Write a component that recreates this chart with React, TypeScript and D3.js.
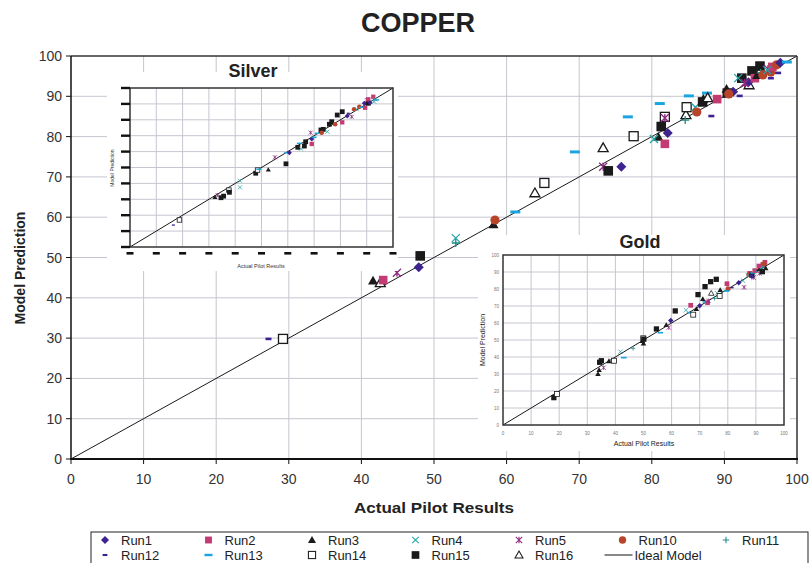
import React from "react";
import * as d3 from "d3";

// ---------- DATA ----------
const tickValues = [0, 10, 20, 30, 40, 50, 60, 70, 80, 90, 100];
const legendRuns = [1, 2, 3, 4, 5, 10, 11, 12, 13, 14, 15, 16];
const runLabels: Record<number, string> = {
  1: "Run1", 2: "Run2", 3: "Run3", 4: "Run4", 5: "Run5", 10: "Run10", 11: "Run11",
  12: "Run12", 13: "Run13", 14: "Run14", 15: "Run15", 16: "Run16",
};
const idealLabel = "Ideal Model";
const idealLine: [number, number][] = [[0, 0], [100, 100]];

// [run, actual pilot, model prediction]
const copperPoints: [number, number, number][] = [
  [12, 27.2, 29.8], [14, 29.2, 29.8], [3, 41.6, 44.2], [16, 42.6, 43.7], [2, 43.0, 44.4],
  [5, 44.9, 46.2], [1, 47.9, 47.6], [15, 48.1, 50.4], [4, 53.0, 54.8], [11, 53.0, 53.6],
  [3, 58.2, 58.2], [10, 58.4, 59.3], [13, 61.2, 61.3], [16, 63.9, 66.0], [14, 65.2, 68.5],
  [13, 69.4, 76.2], [16, 73.3, 77.2], [5, 73.3, 72.5], [15, 74.0, 71.5], [1, 75.8, 72.5],
  [14, 77.5, 80.1], [13, 76.7, 84.9], [13, 81.1, 88.2], [13, 85.1, 90.1], [13, 87.6, 90.8],
  [15, 81.3, 82.5], [3, 80.9, 79.9], [4, 80.3, 79.4], [2, 81.8, 78.2], [1, 82.2, 80.9],
  [14, 81.8, 84.9], [5, 81.8, 84.6], [16, 84.7, 85.4], [11, 84.6, 84.1], [14, 84.8, 87.3],
  [4, 86.0, 87.3], [10, 86.2, 86.1], [12, 88.2, 85.1], [15, 87.0, 88.6], [3, 87.1, 89.3],
  [16, 87.7, 89.6], [2, 89.0, 89.3], [15, 90.4, 90.8], [3, 90.3, 91.8], [1, 91.2, 91.1],
  [10, 90.6, 90.6], [12, 92.1, 90.1], [15, 92.4, 94.5], [4, 91.9, 94.5], [16, 93.4, 92.8],
  [1, 93.3, 93.5], [5, 92.8, 93.3], [15, 93.8, 96.3], [15, 94.9, 97.5], [2, 94.2, 94.5],
  [3, 94.5, 95.2], [11, 95.0, 95.8], [10, 95.3, 95.3], [10, 96.4, 96.0], [5, 96.0, 96.8],
  [2, 96.6, 97.3], [10, 97.2, 97.8], [12, 96.4, 94.5], [12, 97.4, 95.8], [4, 95.9, 96.5],
  [1, 97.7, 98.3], [13, 98.6, 98.5],
];

const silverPoints: [number, number, number][] = [
  [12, 16.5, 13.8], [14, 18.8, 17.0], [3, 32.3, 31.3], [5, 33.3, 32.7], [15, 34.6, 31.0],
  [15, 35.6, 32.0], [14, 37.6, 35.8], [15, 37.8, 34.4], [4, 41.8, 41.7], [4, 41.8, 37.5],
  [15, 47.8, 46.4], [14, 48.5, 48.4], [13, 49.0, 48.9], [3, 52.6, 48.6], [15, 59.3, 52.3],
  [5, 55.1, 56.4], [13, 59.6, 59.3], [1, 60.6, 59.3], [15, 63.8, 62.7], [4, 65.0, 61.8],
  [13, 64.4, 65.2], [15, 66.3, 63.5], [15, 66.8, 66.2], [2, 69.1, 64.8], [1, 69.1, 67.9],
  [5, 68.7, 71.9], [13, 70.0, 69.0], [13, 71.2, 71.5], [15, 72.6, 73.6], [15, 73.5, 74.0],
  [4, 75.0, 72.5], [10, 72.9, 71.9], [15, 75.8, 77.2], [15, 76.7, 78.8], [10, 78.0, 77.2],
  [15, 78.8, 83.0], [15, 80.7, 85.1], [2, 80.7, 78.4], [1, 82.6, 82.4], [10, 85.2, 86.6],
  [5, 84.3, 81.9], [12, 83.0, 84.1], [4, 86.2, 86.6], [10, 87.2, 88.2], [13, 88.1, 87.9],
  [2, 89.4, 87.6], [1, 89.1, 90.4], [5, 90.0, 92.5], [2, 92.5, 94.5], [4, 92.8, 91.4],
  [15, 90.6, 90.4], [13, 93.8, 92.5], [2, 90.6, 92.9], [1, 91.3, 90.8], [4, 93.2, 92.9],
];

const goldPoints: [number, number, number][] = [
  [15, 18.1, 16.1], [14, 19.2, 18.2], [3, 33.8, 30.0], [3, 34.2, 32.4], [15, 34.4, 36.9],
  [15, 35.0, 37.8], [5, 35.8, 33.7], [3, 37.7, 37.6], [14, 39.5, 37.8], [4, 41.8, 43.1],
  [13, 43.0, 39.6], [11, 46.3, 45.1], [14, 49.9, 51.0], [15, 50.1, 50.5], [3, 50.0, 48.0],
  [3, 49.6, 49.4], [15, 54.6, 56.5], [13, 56.0, 54.3], [3, 58.1, 58.8], [5, 59.0, 57.3],
  [1, 59.7, 61.4], [15, 61.3, 67.1], [4, 65.1, 67.5], [13, 66.5, 66.1], [2, 66.8, 70.4],
  [14, 67.7, 64.9], [3, 68.8, 68.2], [15, 69.4, 76.7], [1, 70.0, 70.2], [3, 71.1, 74.1],
  [13, 72.0, 72.4], [15, 71.9, 81.4], [2, 72.8, 72.0], [5, 73.1, 73.1], [16, 74.1, 77.5],
  [15, 73.9, 84.3], [11, 75.3, 74.5], [15, 75.9, 85.7], [4, 76.2, 77.5], [14, 77.1, 75.9],
  [3, 77.3, 79.4], [10, 80.1, 80.2], [2, 79.7, 83.1], [13, 79.5, 78.8], [12, 81.5, 80.8],
  [1, 83.9, 83.7], [4, 85.4, 84.9], [5, 85.8, 81.0], [2, 87.8, 89.2], [10, 87.5, 88.4],
  [4, 87.2, 88.0], [5, 89.2, 86.7], [15, 88.6, 88.2], [1, 88.5, 87.5], [13, 89.0, 89.5],
  [2, 89.6, 90.8], [4, 90.2, 90.4], [3, 91.1, 91.6], [2, 91.1, 93.5], [5, 91.3, 89.2],
  [2, 92.5, 94.5], [2, 93.2, 95.7], [10, 92.9, 94.9], [4, 91.9, 91.6], [11, 92.5, 92.7],
  [15, 92.3, 90.2], [3, 93.5, 92.2],
];

// ---------- STYLES ----------
const FONT = "'Liberation Sans', Arial, Helvetica, sans-serif";
const GRID = "#c6c6d0";
type Style = { shape: string; color: string };
const runStyles: Record<number, Style> = {
  1: { shape: "diamond", color: "#3d2290" },
  2: { shape: "square", color: "#c43a72" },
  3: { shape: "triangle", color: "#1a1a1a" },
  4: { shape: "x", color: "#22a6a6" },
  5: { shape: "star", color: "#8e2a80" },
  10: { shape: "circle", color: "#b8452a" },
  11: { shape: "plus", color: "#1a8a8a" },
  12: { shape: "dashS", color: "#3d2290" },
  13: { shape: "dashL", color: "#1ba5e0" },
  14: { shape: "osquare", color: "#1a1a1a" },
  15: { shape: "bsquare", color: "#1a1a1a" },
  16: { shape: "otriangle", color: "#1a1a1a" },
};

function Marker({ run, x, y, s }: { run: number; x: number; y: number; s: number }) {
  const st = runStyles[run];
  const c = st.color;
  const sw = Math.max(1.3 * s, 0.8);
  switch (st.shape) {
    case "diamond": {
      const r = 5 * s;
      return <path d={`M${x},${y - r}L${x + r},${y}L${x},${y + r}L${x - r},${y}Z`} fill={c} />;
    }
    case "square": {
      const r = 4.3 * s;
      return <rect x={x - r} y={y - r} width={2 * r} height={2 * r} fill={c} />;
    }
    case "triangle": {
      const r = 5 * s;
      return <path d={`M${x},${y - r}L${x + r},${y + r * 0.75}L${x - r},${y + r * 0.75}Z`} fill={c} />;
    }
    case "otriangle": {
      const r = 5 * s;
      return (
        <path d={`M${x},${y - r}L${x + r},${y + r * 0.75}L${x - r},${y + r * 0.75}Z`} fill="#fff" stroke={c} strokeWidth={sw} />
      );
    }
    case "x": {
      const r = 4 * s;
      return <path d={`M${x - r},${y - r}L${x + r},${y + r}M${x - r},${y + r}L${x + r},${y - r}`} stroke={c} strokeWidth={sw} fill="none" />;
    }
    case "star": {
      const r = 4 * s;
      return (
        <path d={`M${x - r},${y - r}L${x + r},${y + r}M${x - r},${y + r}L${x + r},${y - r}M${x},${y - r}L${x},${y + r}`} stroke={c} strokeWidth={sw} fill="none" />
      );
    }
    case "plus": {
      const r = 4 * s;
      return <path d={`M${x - r},${y}L${x + r},${y}M${x},${y - r}L${x},${y + r}`} stroke={c} strokeWidth={sw} fill="none" />;
    }
    case "circle":
      return <circle cx={x} cy={y} r={4.6 * s} fill={c} />;
    case "dashS":
      return <rect x={x - 3 * s} y={y - 1.3 * s} width={6 * s} height={2.6 * s} fill={c} />;
    case "dashL":
      return <rect x={x - 5 * s} y={y - 1.5 * s} width={10 * s} height={3 * s} fill={c} />;
    case "osquare": {
      const r = 4.5 * s;
      return <rect x={x - r} y={y - r} width={2 * r} height={2 * r} fill="#fff" stroke={c} strokeWidth={sw} />;
    }
    case "bsquare": {
      const r = 4.8 * s;
      return <rect x={x - r} y={y - r} width={2 * r} height={2 * r} fill={c} />;
    }
  }
  return null;
}

// ---------- SCALES ----------
const xM = d3.scaleLinear().domain([0, 100]).range([71, 797]);
const yM = d3.scaleLinear().domain([0, 100]).range([459, 56]);
const xS = d3.scaleLinear().domain([0, 100]).range([130, 393]);
const yS = d3.scaleLinear().domain([0, 100]).range([247, 88]);
const xG = d3.scaleLinear().domain([0, 100]).range([503, 784]);
const yG = d3.scaleLinear().domain([0, 100]).range([425, 255]);

function Grid({ xs, ys }: { xs: d3.ScaleLinear<number, number>; ys: d3.ScaleLinear<number, number> }) {
  const [x0, x1] = xs.range();
  const [y0, y1] = ys.range();
  return (
    <g>
      {tickValues.slice(1, -1).map((t) => (
        <line key={"v" + t} x1={xs(t)} x2={xs(t)} y1={y0} y2={y1} stroke={GRID} strokeWidth={1} />
      ))}
      {tickValues.slice(1, -1).map((t) => (
        <line key={"h" + t} x1={x0} x2={x1} y1={ys(t)} y2={ys(t)} stroke={GRID} strokeWidth={1} />
      ))}
    </g>
  );
}

function Ideal({ xs, ys, w }: { xs: d3.ScaleLinear<number, number>; ys: d3.ScaleLinear<number, number>; w: number }) {
  const line = d3.line<[number, number]>().x((d) => xs(d[0])).y((d) => ys(d[1]));
  return <path d={line(idealLine) || ""} stroke="#1a1a1a" strokeWidth={w} fill="none" />;
}

function Points({ pts, xs, ys, s }: { pts: [number, number, number][]; xs: any; ys: any; s: number }) {
  return (
    <g>
      {pts.map((p, i) => (
        <Marker key={i} run={p[0]} x={xs(p[1])} y={ys(p[2])} s={s} />
      ))}
    </g>
  );
}

export default function App() {
  const colX = (i: number) => 105 + i * 103.5;
  const rowY = (r: number) => 541 + r * 15;
  return (
    <svg width={812} height={563} style={{ position: "absolute", left: 0, top: 0, background: "#fff" }} fontFamily={FONT}>
      <rect x={0} y={0} width={812} height={563} fill="#fff" />
      {/* Title */}
      <text x={418} y={32} textAnchor="middle" fontSize={27} fontWeight="bold" fill="#222">COPPER</text>

      {/* Main plot */}
      <Grid xs={xM} ys={yM} />
      <Ideal xs={xM} ys={yM} w={1} />
      <Points pts={copperPoints} xs={xM} ys={yM} s={1} />

      {/* Silver inset */}
      <rect x={107} y={72} width={291} height={199} fill="#fff" />
      <Grid xs={xS} ys={yS} />
      <Ideal xs={xS} ys={yS} w={1} />
      <Points pts={silverPoints} xs={xS} ys={yS} s={0.5} />
      <rect x={130} y={88} width={263} height={159} fill="none" stroke="#333" strokeWidth={1.5} />
      {tickValues.map((t) => (
        <rect key={"sy" + t} x={121} y={yS(t) - 1.2} width={9} height={2.4} fill="#111" />
      ))}
      {tickValues.map((t) => (
        <rect key={"sx" + t} x={xS(t) - 3.5} y={252} width={7} height={2.6} fill="#111" />
      ))}
      <text x={253} y={77} textAnchor="middle" fontSize={18} fontWeight="bold" fill="#222">Silver</text>
      <text x={261} y={268} textAnchor="middle" fontSize={5.5} fill="#333">Actual Pilot Results</text>
      <text transform={`translate(114,168) rotate(-90)`} textAnchor="middle" fontSize={5} fill="#333">Model Prediction</text>

      {/* Gold inset */}
      <rect x={478} y={235} width={312} height={216} fill="#fff" />
      <Grid xs={xG} ys={yG} />
      <Ideal xs={xG} ys={yG} w={1} />
      <Points pts={goldPoints} xs={xG} ys={yG} s={0.55} />
      <rect x={503} y={255} width={281} height={170} fill="none" stroke="#333" strokeWidth={1.5} />
      {tickValues.map((t) => (
        <text key={"gy" + t} x={499} y={yG(t) + 1.7} textAnchor="end" fontSize={4.5} fill="#777">{t}</text>
      ))}
      {tickValues.map((t) => (
        <text key={"gx" + t} x={xG(t)} y={435} textAnchor="middle" fontSize={4.5} fill="#777">{t}</text>
      ))}
      <text x={644} y={446} textAnchor="middle" fontSize={7} fill="#222">Actual Pilot Results</text>
      <text transform={`translate(485,340) rotate(-90)`} textAnchor="middle" fontSize={7} fill="#222">Model Prediction</text>
      <text x={640} y={248} textAnchor="middle" fontSize={18} fontWeight="bold" fill="#222">Gold</text>

      {/* Main axes and border */}
      <line x1={71} x2={797} y1={56} y2={56} stroke="#333" strokeWidth={1.5} />
      <line x1={797} x2={797} y1={56} y2={459} stroke="#333" strokeWidth={1.5} />
      <line x1={71} x2={71} y1={56} y2={460} stroke="#111" strokeWidth={1.5} />
      <line x1={70} x2={798} y1={459} y2={459} stroke="#111" strokeWidth={2} />
      {tickValues.map((t) => (
        <g key={"my" + t}>
          <line x1={66} x2={71} y1={yM(t)} y2={yM(t)} stroke="#111" strokeWidth={1} />
          <text x={62} y={yM(t) + 5} textAnchor="end" fontSize={14} fill="#333">{t}</text>
        </g>
      ))}
      {tickValues.map((t) => (
        <g key={"mx" + t}>
          <line x1={xM(t)} x2={xM(t)} y1={459} y2={464} stroke="#111" strokeWidth={1} />
          <text x={xM(t)} y={484} textAnchor="middle" fontSize={14} fill="#333">{t}</text>
        </g>
      ))}
      <text x={434} y={513} textAnchor="middle" fontSize={15} fontWeight="bold" fill="#222" textLength={160} lengthAdjust="spacingAndGlyphs">Actual Pilot Results</text>
      <text transform={`translate(25,268) rotate(-90)`} textAnchor="middle" fontSize={14} fontWeight="bold" fill="#222">Model Prediction</text>

      {/* Legend */}
      <rect x={91} y={532} width={717} height={40} fill="#fff" stroke="#222" strokeWidth={1} />
      {legendRuns.map((r, i) => {
        const col = i % 7;
        const row = Math.floor(i / 7);
        return (
          <g key={"lg" + r}>
            <Marker run={r} x={colX(col)} y={rowY(row) - 1} s={0.8} />
            <text x={colX(col) + 16} y={rowY(row) + 4} fontSize={13} fill="#222">{runLabels[r]}</text>
          </g>
        );
      })}
      <line x1={colX(5) - 18} x2={colX(5) + 10} y1={rowY(1) - 1} y2={rowY(1) - 1} stroke="#111" strokeWidth={1} />
      <text x={colX(5) + 12} y={rowY(1) + 4} fontSize={13} fill="#222">{idealLabel}</text>
    </svg>
  );
}
